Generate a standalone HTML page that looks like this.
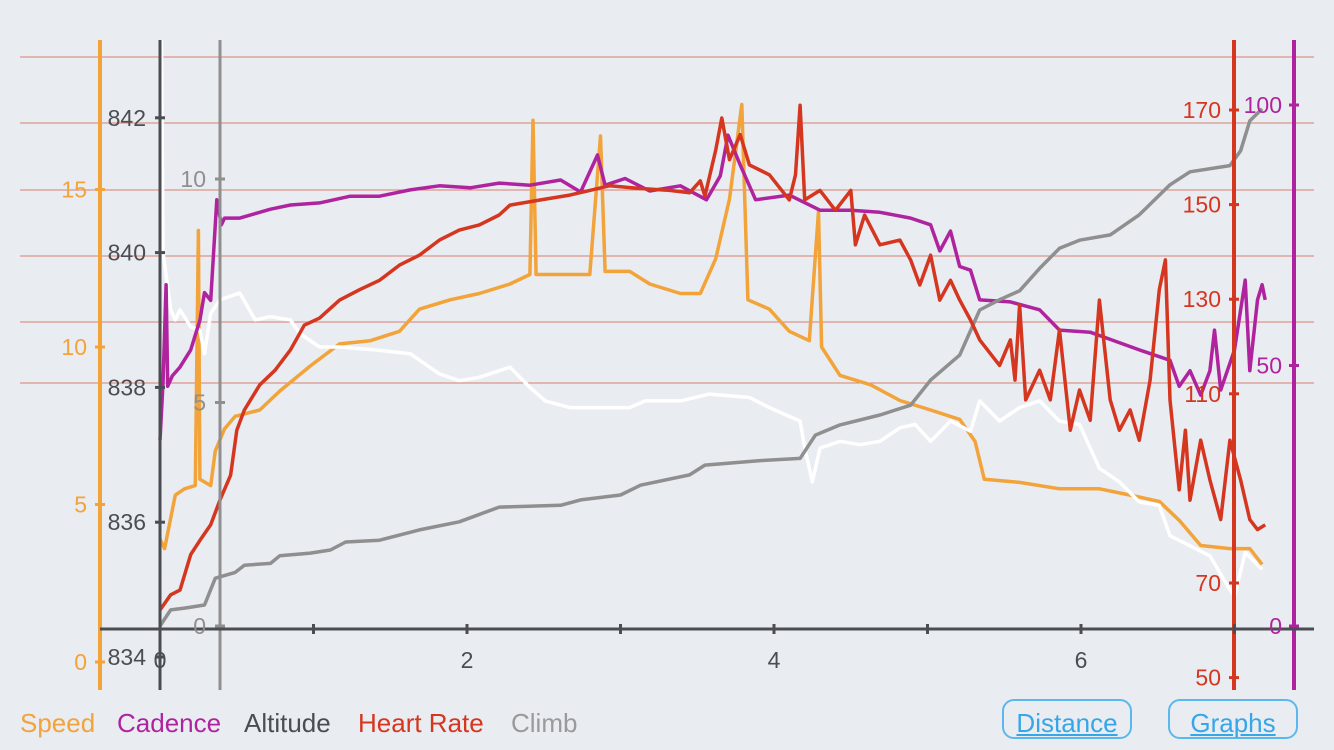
<!DOCTYPE html>
<html><head><meta charset="utf-8"><style>
body{margin:0;background:#e9ecf0;width:1334px;height:750px;overflow:hidden;font-family:"Liberation Sans",sans-serif}
svg{position:absolute;left:0;top:0}
.leg{position:absolute;top:708px;font-size:26px}
.btn{position:absolute;top:699px;height:40px;border:2px solid #5bb8ee;border-radius:12px;color:#36a6e8;font-size:26px;text-decoration:underline;text-align:center;line-height:44px;box-sizing:border-box}
</style></head><body>
<svg id="chart" width="1334" height="750"></svg>
<div class="leg" style="left:20px;color:#f2a33a">Speed</div>
<div class="leg" style="left:117px;color:#b0239f">Cadence</div>
<div class="leg" style="left:244px;color:#4a4d52">Altitude</div>
<div class="leg" style="left:358px;color:#d5361f">Heart Rate</div>
<div class="leg" style="left:511px;color:#9a9a9a">Climb</div>
<div class="btn" style="left:1002px;width:130px">Distance</div>
<div class="btn" style="left:1168px;width:130px">Graphs</div>
<script>
const xTicks=[0,1,2,3,4,5,6,7];
const xLabels=[0,2,4,6];
const speedTicks=[0,5,10,15];
const altTicks=[834,836,838,840,842];
const climbTicks=[0,5,10];
const hrTicks=[50,70,110,130,150,170];
const cadTicks=[0,50,100];

const speedD=[0,.03,.10,.16,.23,.25,.26,.33,.36,.42,.49,.65,.78,.98,1.17,1.37,1.56,1.69,1.89,2.08,2.28,2.41,2.43,2.45,2.61,2.80,2.87,2.90,3.06,3.19,3.39,3.52,3.62,3.71,3.79,3.83,3.97,4.10,4.23,4.29,4.31,4.43,4.63,4.82,5.02,5.21,5.31,5.37,5.60,5.86,6.12,6.32,6.51,6.64,6.78,6.97,7.10,7.18];
const speedV=[3.9,3.6,5.3,5.5,5.6,13.7,5.8,5.6,6.7,7.4,7.8,8,8.6,9.4,10.1,10.2,10.5,11.2,11.5,11.7,12,12.3,17.2,12.3,12.3,12.3,16.7,12.4,12.4,12,11.7,11.7,12.8,14.7,17.7,11.5,11.2,10.5,10.2,14.3,10,9.1,8.8,8.3,8,7.7,7,5.8,5.7,5.5,5.5,5.3,5.1,4.5,3.7,3.6,3.6,3.1];

const altD=[0,.02,.07,.10,.13,.20,.26,.29,.33,.39,.52,.62,.72,.85,.91,1.04,1.17,1.43,1.63,1.82,1.95,2.08,2.28,2.41,2.51,2.67,2.87,3.06,3.16,3.39,3.58,3.84,3.97,4.17,4.20,4.25,4.30,4.43,4.56,4.69,4.82,4.92,5.02,5.15,5.28,5.34,5.47,5.60,5.73,5.86,5.99,6.12,6.25,6.38,6.51,6.58,6.71,6.84,6.97,7.00,7.07,7.18];
const altV=[846,840,839.15,839,839.15,838.9,838.85,838.5,839.1,839.3,839.4,839,839.05,839,838.8,838.6,838.6,838.55,838.5,838.2,838.1,838.15,838.3,838,837.8,837.7,837.7,837.7,837.8,837.8,837.9,837.85,837.7,837.5,837.1,836.6,837.1,837.2,837.15,837.2,837.4,837.45,837.2,837.5,837.35,837.8,837.5,837.7,837.8,837.5,837.45,836.8,836.6,836.3,836.25,835.8,835.65,835.5,835,834.9,835.55,835.3];

const cadD=[0,.02,.04,.05,.08,.13,.20,.26,.29,.33,.35,.37,.40,.42,.52,.72,.85,1.04,1.24,1.43,1.63,1.82,2.02,2.21,2.41,2.61,2.74,2.85,2.90,3.03,3.19,3.39,3.56,3.65,3.70,3.78,3.88,4.10,4.30,4.50,4.69,4.89,5.02,5.08,5.15,5.21,5.28,5.34,5.54,5.73,5.86,6.06,6.19,6.38,6.58,6.64,6.71,6.78,6.84,6.87,6.91,7.00,7.07,7.10,7.15,7.18,7.20];
const cadV=[35.7,47,65.5,46,48,49.7,53,58.7,64,62.5,72,81.8,77,78.3,78.3,80,80.8,81.2,82.5,82.5,83.7,84.5,84.1,85,84.6,85.6,83.3,90.4,84.6,85.9,83.5,84.5,81.8,86.4,94.2,88.5,81.8,82.7,79.8,79.8,79.4,78.3,77,72,75.8,69,68.3,62.6,62.2,60.7,56.8,56.4,55,53,51,46,49,44.3,49,56.8,45.3,53,66.4,49,62.6,65.5,62.6];

const hrD=[0,.07,.13,.20,.26,.33,.39,.46,.50,.55,.65,.75,.85,.94,1.04,1.17,1.30,1.43,1.56,1.69,1.82,1.95,2.08,2.21,2.28,2.48,2.67,2.80,2.93,3.13,3.32,3.45,3.52,3.55,3.62,3.66,3.71,3.78,3.84,3.97,4.10,4.14,4.17,4.20,4.30,4.40,4.50,4.53,4.59,4.69,4.82,4.89,4.95,5.02,5.08,5.15,5.21,5.28,5.34,5.47,5.54,5.57,5.60,5.64,5.73,5.80,5.86,5.93,5.99,6.06,6.12,6.19,6.25,6.32,6.38,6.45,6.51,6.55,6.58,6.64,6.68,6.71,6.78,6.84,6.91,6.97,7.04,7.10,7.15,7.20];
const hrV=[64.3,67.5,68.5,76,79,82.3,87.5,92.8,102.3,106.6,111.9,115,119.3,124.5,126,129.8,132,134,137.2,139.3,142.5,144.6,145.7,147.8,149.9,151,152,153,154,153.4,153,152.5,155,151.8,161.5,168.3,159.5,164.8,158.4,156.3,151,156.3,171,151,153,148.8,153,141.5,147.8,141.5,142.5,138.3,133,139.3,129.8,134,129.8,125.6,121.4,116,121.4,112.9,128.8,108.7,115,108.7,123.5,102.3,110.8,104.4,129.8,108.7,102.3,106.6,100.2,112.9,132,138.3,108.7,89.7,102.3,87.5,100.2,91.8,83.4,100.2,91.8,83.4,81.3,82.3];

const climbD=[0,.07,.16,.29,.36,.49,.55,.72,.78,.98,1.11,1.21,1.43,1.69,1.95,2.21,2.61,2.74,3.00,3.13,3.45,3.55,3.91,4.17,4.27,4.43,4.69,4.89,5.02,5.21,5.34,5.47,5.60,5.73,5.86,5.99,6.19,6.38,6.58,6.71,6.97,7.04,7.10,7.18];
const climbV=[0,.36,.4,.47,1.07,1.2,1.36,1.4,1.57,1.63,1.7,1.88,1.92,2.15,2.33,2.66,2.7,2.82,2.93,3.15,3.38,3.6,3.7,3.75,4.27,4.5,4.72,4.94,5.5,6.06,7.07,7.3,7.5,8,8.45,8.63,8.75,9.2,9.87,10.16,10.3,10.63,11.3,11.57];

const svg=document.getElementById('chart');const NS='http://www.w3.org/2000/svg';
const X=d=>160+153.5*d;
const ySpeed=v=>662-31.5*v;
const yAlt=a=>657-67.4*(a-834);
const yClimb=c=>626-44.7*c;
const yHr=h=>110+(170-h)*4.73;
const yCad=c=>626-5.21*c;
function mk(tag,attrs,parent){const e=document.createElementNS(NS,tag);for(const k in attrs)e.setAttribute(k,attrs[k]);(parent||svg).appendChild(e);return e;}
[57,123,190,256,322,383].forEach(y=>{const l=mk('line',{x1:20,x2:1314,y1:y,y2:y,stroke:'#da8070','stroke-width':1});

});
const defs=mk('defs',{});const cp=mk('clipPath',{id:'cp'},defs);mk('rect',{x:100,y:40,width:1214,height:650},cp);
function vaxis(x,color,w,name){const l=mk('line',{x1:x,x2:x,y1:40,y2:690,stroke:color,'stroke-width':w});

}
function label(x,y,t,color,anchor,name){const e=mk('text',{x:x,y:y,fill:color,'font-size':23,'text-anchor':anchor,'dominant-baseline':'central','font-family':'Liberation Sans, sans-serif'});e.textContent=t;

}
function tick(x,y,color){mk('line',{x1:x-5,x2:x+5,y1:y,y2:y,stroke:color,'stroke-width':3});}
function series(D,V,yf,color,name){let p=D.map((d,i)=>(i?'L':'M')+X(d).toFixed(1)+','+yf(V[i]).toFixed(1)).join('');
const e=mk('path',{d:p,fill:'none',stroke:color,'stroke-width':3.5,'stroke-linejoin':'round','clip-path':'url(#cp)'});

}
series(speedD,speedV,ySpeed,'#f2a33a','speed-line');
series(altD,altV,yAlt,'#ffffff','altitude-line');
series(cadD,cadV,yCad,'#b0239f','cadence-line');
series(climbD,climbV,yClimb,'#8f8f8f','climb-line');
series(hrD,hrV,yHr,'#d5361f','heart-rate-line');
vaxis(100,'#f2a33a',4,'speed-axis');
vaxis(160,'#4a4d52',3,'altitude-axis');
vaxis(220,'#8f8f8f',3,'climb-axis');
vaxis(1234,'#d5361f',4,'heart-rate-axis');
vaxis(1294,'#b0239f',4,'cadence-axis');
const xa=mk('line',{x1:100,x2:1314,y1:629,y2:629,stroke:'#4a4d52','stroke-width':3});


xTicks.forEach(d=>mk('line',{x1:X(d),x2:X(d),y1:624,y2:634,stroke:'#4a4d52','stroke-width':3}));
xLabels.forEach(d=>label(X(d),660,String(d),'#4a4d52','middle','x-tick-label'));
speedTicks.forEach(v=>{tick(100,ySpeed(v),'#f2a33a');label(87,ySpeed(v),String(v),'#f2a33a','end','speed-tick-label');});
altTicks.forEach(v=>{tick(160,yAlt(v),'#4a4d52');label(146,yAlt(v),String(v),'#4a4d52','end','altitude-tick-label');});
climbTicks.forEach(v=>{tick(220,yClimb(v),'#8f8f8f');label(206,yClimb(v),String(v),'#8f8f8f','end','climb-tick-label');});
hrTicks.forEach(v=>{tick(1234,yHr(v),'#d5361f');label(1221,yHr(v),String(v),'#d5361f','end','heart-rate-tick-label');});
cadTicks.forEach(v=>{tick(1294,yCad(v),'#b0239f');label(1282,yCad(v),String(v),'#b0239f','end','cadence-tick-label');});
</script>
</body></html>
